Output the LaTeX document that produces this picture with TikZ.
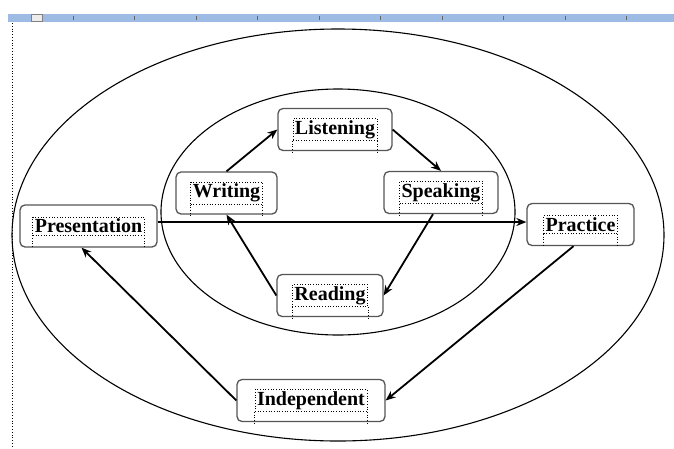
\documentclass[tikz,border=0pt]{standalone}
\usepackage{fontspec}
\setmainfont{Liberation Serif}
\usepackage{tikz}
\usetikzlibrary{arrows.meta}
\definecolor{rulerblue}{RGB}{157,187,227}
\definecolor{boxgray}{RGB}{85,85,85}

\begin{document}
\begin{tikzpicture}[x=1pt, y=-1pt,
    skill/.style={draw=boxgray, fill=white, line width=1.3pt, rounded corners=5pt, minimum height=42pt, inner sep=0pt},
    txt/.style={draw, dotted, line width=0.7pt, inner sep=2pt, font=\fontsize{20}{22}\selectfont\bfseries},
    flow/.style={-{Stealth[length=10pt, width=8pt]}, line width=1.8pt}]
    \useasboundingbox (0,0) rectangle (674,448);
    \fill[rulerblue] (8,14) rectangle (674,22);
    \draw[gray, fill=gray!15] (31,14) rectangle (42,21);
    \foreach \i in {0,...,9} {
        \draw[gray!80!black, line width=1pt] (73+61.5*\i,16) -- ++(0,-4pt);
    }
    \draw[dotted, line width=0.8pt] (12.5,23) -- (12.5,448);
    \draw[line width=1.1pt] (338,235) ellipse [x radius=326, y radius=206];
    \draw[line width=1.1pt] (338,212) ellipse [x radius=177, y radius=123];
    \foreach \n/\x/\y/\w/\lab in {pre/88.5/226/137/Presentation, lis/335/129.5/114/Listening,
        wri/226.5/193/101/Writing, spk/441/192.5/114/Speaking, prac/580.5/224.5/107/Practice,
        rea/330/295.5/106/Reading, ind/311/400.5/148/Independent} {
        \node[skill, minimum width=\w] (\n) at (\x,\y) {};
        \node[txt] (\n-t) at (\n) {\lab};
        \draw[dotted, line width=0.7pt] (\n-t.south west) -- ++(0,-12pt) (\n-t.south east) -- ++(0,-12pt);
    }
    \draw[flow] (wri.north) -- (lis.west);
    \draw[flow] (lis.east) -- (spk.north);
    \draw[flow] ([xshift=-8pt]spk.south) -- (rea.east);
    \draw[flow] (rea.west) -- (wri.south);
    \draw[flow] ([yshift=4pt]pre.east) -- ([yshift=4pt]pre.east -| prac.west);
    \draw[flow] ([xshift=-7pt]prac.south) -- (ind.east);
    \draw[flow] (ind.west) -- ([xshift=-7pt]pre.south);
\end{tikzpicture}
\end{document}
